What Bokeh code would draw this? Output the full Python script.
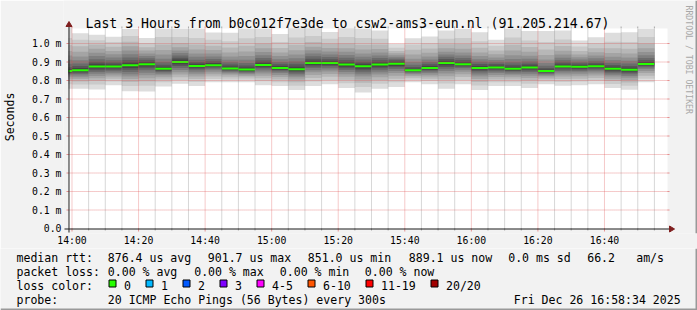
import math
from bokeh.plotting import figure
from bokeh.layouts import column
from bokeh.models import Range1d, FixedTicker, CustomJSTickFormatter
from bokeh.core.properties import value
from bokeh.embed import file_html
from bokeh.resources import INLINE

# ---------------- data ----------------
bar_start = ["13:55", "14:00", "14:05", "14:10", "14:15", "14:20", "14:25", "14:30", "14:35",
             "14:40", "14:45", "14:50", "14:55", "15:00", "15:05", "15:10", "15:15", "15:20",
             "15:25", "15:30", "15:35", "15:40", "15:45", "15:50", "15:55", "16:00", "16:05",
             "16:10", "16:15", "16:20", "16:25", "16:30", "16:35", "16:40", "16:45", "16:50"]

median_ms = [0.851, 0.856, 0.876, 0.876, 0.883, 0.888, 0.863, 0.900, 0.879, 0.883, 0.865, 0.859,
             0.884, 0.867, 0.861, 0.894, 0.894, 0.886, 0.877, 0.886, 0.890, 0.856, 0.867, 0.894,
             0.888, 0.868, 0.870, 0.863, 0.870, 0.851, 0.876, 0.874, 0.877, 0.863, 0.858, 0.889]

# 20 sorted ping times (ms) per 5-minute step
pings_ms = [
    [0.755, 0.780, 0.798, 0.810, 0.820, 0.828, 0.835, 0.840, 0.845, 0.849, 0.853, 0.860, 0.872, 0.890, 0.912, 0.935, 0.960, 0.990, 1.030, 1.090],
    [0.755, 0.778, 0.795, 0.808, 0.818, 0.827, 0.835, 0.842, 0.848, 0.853, 0.859, 0.867, 0.878, 0.892, 0.910, 0.930, 0.955, 0.985, 1.020, 1.055],
    [0.752, 0.778, 0.798, 0.812, 0.825, 0.836, 0.846, 0.856, 0.865, 0.872, 0.880, 0.890, 0.902, 0.915, 0.932, 0.950, 0.972, 0.994, 1.018, 1.047],
    [0.775, 0.795, 0.810, 0.822, 0.832, 0.842, 0.850, 0.858, 0.866, 0.873, 0.879, 0.887, 0.897, 0.910, 0.925, 0.942, 0.960, 0.982, 1.008, 1.036],
    [0.742, 0.770, 0.792, 0.808, 0.822, 0.834, 0.846, 0.858, 0.868, 0.879, 0.887, 0.897, 0.910, 0.925, 0.942, 0.962, 0.985, 1.010, 1.040, 1.078],
    [0.740, 0.772, 0.795, 0.812, 0.828, 0.842, 0.855, 0.866, 0.876, 0.884, 0.892, 0.900, 0.910, 0.920, 0.932, 0.946, 0.962, 0.980, 1.003, 1.030],
    [0.768, 0.790, 0.806, 0.818, 0.828, 0.836, 0.844, 0.850, 0.855, 0.860, 0.866, 0.874, 0.885, 0.900, 0.918, 0.940, 0.965, 0.995, 1.035, 1.080],
    [0.782, 0.802, 0.818, 0.832, 0.845, 0.857, 0.868, 0.878, 0.888, 0.896, 0.904, 0.913, 0.923, 0.935, 0.948, 0.962, 0.980, 1.002, 1.035, 1.080],
    [0.770, 0.792, 0.808, 0.822, 0.834, 0.845, 0.855, 0.863, 0.870, 0.876, 0.882, 0.890, 0.900, 0.912, 0.928, 0.946, 0.968, 0.995, 1.030, 1.080],
    [0.790, 0.808, 0.822, 0.834, 0.845, 0.855, 0.863, 0.870, 0.876, 0.880, 0.886, 0.894, 0.904, 0.916, 0.930, 0.946, 0.965, 0.988, 1.020, 1.060],
    [0.790, 0.806, 0.818, 0.828, 0.836, 0.843, 0.849, 0.854, 0.858, 0.862, 0.868, 0.876, 0.886, 0.898, 0.912, 0.930, 0.952, 0.978, 1.012, 1.058],
    [0.790, 0.805, 0.816, 0.825, 0.832, 0.838, 0.843, 0.848, 0.852, 0.856, 0.862, 0.870, 0.881, 0.895, 0.912, 0.932, 0.957, 0.988, 1.028, 1.080],
    [0.775, 0.796, 0.812, 0.826, 0.838, 0.849, 0.859, 0.867, 0.874, 0.880, 0.888, 0.897, 0.908, 0.921, 0.936, 0.954, 0.975, 1.000, 1.035, 1.080],
    [0.770, 0.790, 0.806, 0.819, 0.830, 0.840, 0.848, 0.855, 0.860, 0.864, 0.870, 0.878, 0.888, 0.900, 0.915, 0.932, 0.952, 0.976, 1.008, 1.052],
    [0.748, 0.772, 0.790, 0.805, 0.817, 0.827, 0.836, 0.844, 0.851, 0.857, 0.865, 0.875, 0.888, 0.903, 0.920, 0.940, 0.964, 0.993, 1.032, 1.082],
    [0.770, 0.795, 0.814, 0.830, 0.844, 0.856, 0.867, 0.876, 0.884, 0.890, 0.898, 0.907, 0.918, 0.931, 0.946, 0.963, 0.983, 1.008, 1.040, 1.082],
    [0.780, 0.802, 0.820, 0.835, 0.848, 0.859, 0.869, 0.878, 0.885, 0.891, 0.897, 0.905, 0.915, 0.927, 0.941, 0.957, 0.976, 0.998, 1.026, 1.062],
    [0.760, 0.785, 0.804, 0.820, 0.834, 0.846, 0.857, 0.866, 0.874, 0.882, 0.890, 0.899, 0.910, 0.923, 0.938, 0.955, 0.975, 1.000, 1.035, 1.082],
    [0.735, 0.765, 0.788, 0.806, 0.821, 0.834, 0.845, 0.855, 0.864, 0.873, 0.881, 0.890, 0.901, 0.914, 0.929, 0.946, 0.967, 0.993, 1.030, 1.080],
    [0.755, 0.782, 0.802, 0.818, 0.832, 0.845, 0.856, 0.866, 0.875, 0.882, 0.890, 0.899, 0.909, 0.921, 0.935, 0.951, 0.970, 0.994, 1.026, 1.070],
    [0.765, 0.790, 0.810, 0.826, 0.840, 0.852, 0.862, 0.871, 0.879, 0.886, 0.894, 0.901, 0.909, 0.917, 0.926, 0.936, 0.947, 0.960, 0.977, 0.998],
    [0.790, 0.804, 0.815, 0.824, 0.832, 0.838, 0.843, 0.847, 0.851, 0.854, 0.858, 0.864, 0.873, 0.885, 0.900, 0.918, 0.940, 0.966, 0.995, 1.029],
    [0.780, 0.797, 0.810, 0.821, 0.831, 0.840, 0.848, 0.855, 0.860, 0.864, 0.870, 0.878, 0.888, 0.900, 0.914, 0.930, 0.950, 0.973, 1.002, 1.038],
    [0.755, 0.784, 0.806, 0.823, 0.838, 0.851, 0.863, 0.873, 0.882, 0.890, 0.898, 0.906, 0.916, 0.928, 0.941, 0.956, 0.974, 0.996, 1.026, 1.070],
    [0.780, 0.802, 0.819, 0.834, 0.847, 0.858, 0.867, 0.875, 0.881, 0.885, 0.891, 0.899, 0.909, 0.921, 0.935, 0.952, 0.972, 0.997, 1.030, 1.078],
    [0.748, 0.773, 0.792, 0.808, 0.821, 0.833, 0.843, 0.852, 0.859, 0.865, 0.871, 0.879, 0.889, 0.901, 0.915, 0.932, 0.952, 0.977, 1.012, 1.061],
    [0.770, 0.790, 0.806, 0.819, 0.830, 0.840, 0.849, 0.856, 0.862, 0.867, 0.873, 0.880, 0.889, 0.899, 0.911, 0.925, 0.942, 0.962, 0.988, 1.020],
    [0.770, 0.790, 0.805, 0.817, 0.828, 0.837, 0.845, 0.851, 0.856, 0.860, 0.866, 0.874, 0.885, 0.899, 0.916, 0.937, 0.962, 0.993, 1.032, 1.080],
    [0.760, 0.783, 0.800, 0.814, 0.826, 0.837, 0.846, 0.854, 0.861, 0.867, 0.873, 0.881, 0.891, 0.903, 0.917, 0.934, 0.955, 0.981, 1.016, 1.067],
    [0.780, 0.795, 0.807, 0.816, 0.824, 0.831, 0.837, 0.842, 0.846, 0.849, 0.853, 0.859, 0.868, 0.880, 0.895, 0.914, 0.938, 0.968, 1.008, 1.067],
    [0.772, 0.792, 0.808, 0.821, 0.833, 0.843, 0.852, 0.860, 0.867, 0.873, 0.879, 0.887, 0.897, 0.909, 0.923, 0.940, 0.961, 0.987, 1.022, 1.070],
    [0.775, 0.795, 0.810, 0.823, 0.834, 0.844, 0.852, 0.859, 0.865, 0.871, 0.877, 0.884, 0.892, 0.902, 0.913, 0.926, 0.941, 0.960, 0.984, 1.016],
    [0.780, 0.799, 0.814, 0.827, 0.838, 0.848, 0.856, 0.863, 0.869, 0.874, 0.880, 0.887, 0.896, 0.907, 0.920, 0.935, 0.953, 0.975, 1.002, 1.034],
    [0.760, 0.781, 0.797, 0.810, 0.821, 0.831, 0.839, 0.847, 0.854, 0.860, 0.866, 0.874, 0.884, 0.896, 0.911, 0.928, 0.949, 0.974, 1.009, 1.058],
    [0.750, 0.772, 0.789, 0.803, 0.815, 0.825, 0.834, 0.842, 0.849, 0.855, 0.861, 0.869, 0.879, 0.892, 0.907, 0.925, 0.946, 0.972, 1.008, 1.061],
    [0.790, 0.810, 0.826, 0.840, 0.852, 0.862, 0.870, 0.877, 0.882, 0.886, 0.892, 0.900, 0.910, 0.922, 0.937, 0.954, 0.974, 1.000, 1.035, 1.080],
]

step_minutes = 5
window_start = "13:58:57"
window_minutes = 180

x_tick_labels = ["14:00", "14:20", "14:40", "15:00", "15:20", "15:40", "16:00", "16:20", "16:40"]
y_tick_values = [0.0, 0.1, 0.2, 0.3, 0.4, 0.5, 0.6, 0.7, 0.8, 0.9, 1.0]
y_tick_labels = ["0.0", "0.1 m", "0.2 m", "0.3 m", "0.4 m", "0.5 m", "0.6 m", "0.7 m", "0.8 m", "0.9 m", "1.0 m"]

title_text = "Last 3 Hours from b0c012f7e3de to csw2-ams3-eun.nl (91.205.214.67)"
y_axis_title = "Seconds"
watermark = "RRDTOOL / TOBI OETIKER"
rtt_items = ["median rtt:", "876.4 us avg", "901.7 us max", "851.0 us min", "889.1 us now",
             "0.0 ms sd", "66.2", "am/s"]
loss_items = ["packet loss:", "0.00 % avg", "0.00 % max", "0.00 % min", "0.00 % now"]
loss_color_title = "loss color:"
loss_color_labels = ["0", "1", "2", "3", "4-5", "6-10", "11-19", "20/20"]
loss_colors = ["#26ff00", "#00b8ff", "#0059ff", "#7e00ff", "#ff00ff", "#ff5500", "#ff0000", "#a10000"]
probe_items = ["probe:", "20 ICMP Echo Pings (56 Bytes) every 300s", "Fri Dec 26 16:58:34 2025"]

# ---------------- helpers / styling ----------------
def minutes(s):
    parts = [int(v) for v in s.split(":")]
    while len(parts) < 3:
        parts.append(0)
    return (parts[0] - 14) * 60 + parts[1] + parts[2] / 60.0

W = 697
HA, HB = 248, 62                     # main figure / legend strip heights
FL, FR, FT, FB = 62, 697, 0, 233     # frame of the main figure (canvas px)
PL, PR, PT, PB = 67, 667, 28, 228    # rrdtool plot area (canvas px)
FONT = "DejaVu Sans Mono"
BACK = "#f2f2f2"
GRID = "#8f8f8f"
MGRID = "#de4f4f"
ARROW = "#7f1f1f"
AXIS = "#1f1f1f"

x0 = minutes(window_start)
x1 = x0 + window_minutes
kx = window_minutes / float(PR - PL)     # minutes per pixel
ky = 0.1 / 18.5                          # ms per pixel

def dx(px):
    return x0 + (px - PL) * kx

def dy(py):
    return (PB - py) * ky

y_plot_top = dy(PT)

A = figure(width=W, height=HA, output_backend="svg", toolbar_location=None, title=None,
           x_range=Range1d(dx(FL), dx(FR)), y_range=Range1d(dy(FB), dy(FT)),
           min_border_left=FL, min_border_right=W - FR, min_border_top=FT,
           min_border_bottom=HA - FB,
           background_fill_color=BACK, border_fill_color=BACK, outline_line_color=None)
A.frame_align = False
A.xgrid.visible = False
A.ygrid.visible = False

# canvas of the graph
A.quad(left=[x0], right=[x1], bottom=[0], top=[y_plot_top], fill_color="white", line_color=None)

# ---------------- smoke ----------------
starts = [max(minutes(s), x0) for s in bar_start]
ends = [minutes(s) + step_minutes for s in bar_start]
xs = starts + [ends[-1]]
n = len(pings_ms[0])
half = n // 2
for i in range(half):
    g = int(190.0 / half * (half - 1 - i)) + 50
    col = "#%02x%02x%02x" % (g, g, g)
    lo = [pk[i] for pk in pings_ms]
    hi = [pk[n - 1 - i] for pk in pings_ms]
    A.varea_step(x=xs, y1=lo + [lo[-1]], y2=hi + [hi[-1]], step_mode="after",
                 fill_color=col, fill_alpha=1.0)

# median (2 px thick)
hw = 1.0 * ky
A.quad(left=starts, right=ends, bottom=[m - hw for m in median_ms],
       top=[m + hw for m in median_ms], fill_color=loss_colors[0], line_color=None)

# ---------------- grid (dotted, on top of the smoke) ----------------
x_major = [minutes(s) for s in x_tick_labels]
x_minor = [t for t in range(5, int(x1), 5) if t not in x_major]
A.segment(x0=x_minor, y0=[0] * len(x_minor), x1=x_minor, y1=[y_plot_top] * len(x_minor),
          line_color=GRID, line_alpha=0.7, line_dash="1 1", line_width=1)
A.segment(x0=x_major, y0=[0] * len(x_major), x1=x_major, y1=[y_plot_top] * len(x_major),
          line_color=MGRID, line_alpha=0.6, line_dash="1 1", line_width=1)
yg = y_tick_values[1:]
A.segment(x0=[x0] * len(yg), y0=yg, x1=[x1] * len(yg), y1=yg,
          line_color=MGRID, line_alpha=0.6, line_dash="1 1", line_width=1)

# small tick marks outside the plot area
A.segment(x0=x_minor, y0=[dy(PB)] * len(x_minor), x1=x_minor, y1=[dy(PB + 2)] * len(x_minor),
          line_color=GRID, line_alpha=0.75)
A.segment(x0=x_minor, y0=[dy(PT)] * len(x_minor), x1=x_minor, y1=[dy(PT - 2)] * len(x_minor),
          line_color=GRID, line_alpha=0.75)
A.segment(x0=x_major, y0=[dy(PB)] * len(x_major), x1=x_major, y1=[dy(PB + 3)] * len(x_major),
          line_color=MGRID, line_alpha=0.6)
A.segment(x0=x_major, y0=[dy(PT)] * len(x_major), x1=x_major, y1=[dy(PT - 2)] * len(x_major),
          line_color=MGRID, line_alpha=0.6)
A.segment(x0=[dx(PL - 2)] * len(yg), y0=yg, x1=[dx(PL)] * len(yg), y1=yg,
          line_color=MGRID, line_alpha=0.6)
A.segment(x0=[dx(PR)] * len(yg), y0=yg, x1=[dx(PR + 2)] * len(yg), y1=yg,
          line_color=MGRID, line_alpha=0.6)

# axis lines + arrow heads
A.segment(x0=[dx(PL - 4), dx(PL + 0.5)], y0=[dy(PB + 0.5), dy(PB + 4)],
          x1=[dx(PR + 4), dx(PL + 0.5)], y1=[dy(PB + 0.5), dy(PT - 4)],
          line_color=AXIS, line_width=1)
A.patches(xs=[[dx(PR + 2), dx(PR + 2), dx(PR + 7)], [dx(PL - 2.5), dx(PL + 3.5), dx(PL + 0.5)]],
          ys=[[dy(PB - 2.5), dy(PB + 3.5), dy(PB + 0.5)], [dy(PT - 2), dy(PT - 2), dy(PT - 7)]],
          fill_color=ARROW, line_color=ARROW, line_width=1)

# title and watermark
A.text(x=[dx(346.5)], y=[dy(23.3)], text=[title_text], text_font=value(FONT),
       text_font_size=value("13.2px"), text_align="center", text_baseline="alphabetic",
       text_color="black")
A.text(x=[dx(688)], y=[dy(5)], text=[watermark], text_font=value(FONT),
       text_font_size=value("8.2px"), text_align="left", text_baseline="middle",
       angle=-math.pi / 2, text_color="#a8a8a8")
A.quad(left=[dx(W - 2)], right=[dx(W)], bottom=[dy(FB)], top=[dy(0)],
       fill_color="#999999", line_color=None)

# ---------------- real axes (tick labels only) ----------------
def fmt(vals, labels):
    return CustomJSTickFormatter(args=dict(v=vals, l=labels), code="""
for (let i = 0; i < v.length; i++) { if (Math.abs(v[i] - tick) < 1e-6) return l[i]; }
return '';""")

xax = A.xaxis[0]
xax.ticker = FixedTicker(ticks=x_major)
xax.formatter = fmt(x_major, x_tick_labels)
xax.bounds = (x0, x1)
yax = A.yaxis[0]
yax.ticker = FixedTicker(ticks=y_tick_values)
yax.formatter = fmt(y_tick_values, y_tick_labels)
yax.bounds = (0, y_plot_top)
for ax in (xax, yax):
    ax.axis_line_color = None
    ax.major_tick_line_color = None
    ax.minor_tick_line_color = None
    ax.major_tick_in = 0
    ax.major_tick_out = 0
    ax.minor_tick_in = 0
    ax.minor_tick_out = 0
    ax.major_label_text_font = FONT
    ax.major_label_text_font_size = "9.8px"
    ax.major_label_text_color = "black"
xax.major_label_standoff = 1
yax.major_label_standoff = 2
yax.axis_label = y_axis_title
yax.axis_label_text_font = FONT
yax.axis_label_text_font_size = "11.55px"
yax.axis_label_text_font_style = "normal"
yax.axis_label_text_color = "black"
yax.axis_label_standoff = 12

# ---------------- legend strip ----------------
B = figure(width=W, height=HB, output_backend="svg", toolbar_location=None, title=None,
           x_axis_type=None, y_axis_type=None,
           x_range=Range1d(0, W), y_range=Range1d(HA + HB, HA),
           min_border_left=0, min_border_right=0, min_border_top=0, min_border_bottom=0,
           background_fill_color=BACK, border_fill_color=BACK, outline_line_color=None)
B.frame_align = False

LS = value("11.55px")

def row(items, xs_, base):
    B.text(x=xs_, y=[base] * len(items), text=items, text_font=value(FONT), text_font_size=LS,
           text_align="left", text_baseline="alphabetic", text_color="black")

row(rtt_items, [16, 107.3, 207.3, 307.3, 408.3, 507.7, 586.7, 635.7], 257)
row(loss_items, [16, 107.3, 193.7, 279.3, 364.3], 271)
box_x = [108.5, 145.5, 182.5, 219.5, 256.5, 307.5, 365.5, 430.5]
row([loss_color_title] + loss_color_labels, [16] + [b + 15 for b in box_x], 285)
B.quad(left=box_x, right=[b + 7 for b in box_x], top=[279.5] * len(box_x),
       bottom=[286.5] * len(box_x), fill_color=loss_colors, line_color="black", line_width=1)
row(probe_items, [16, 107.3, 513.3], 299)

# 3-D frame edges
B.quad(left=[0, W - 2], right=[W, W], top=[HA + HB - 2, HA], bottom=[HA + HB, HA + HB],
       fill_color="#999999", line_color=None)

layout = column(A, B, spacing=0)
open("out.html", "w").write(file_html(layout, INLINE))
